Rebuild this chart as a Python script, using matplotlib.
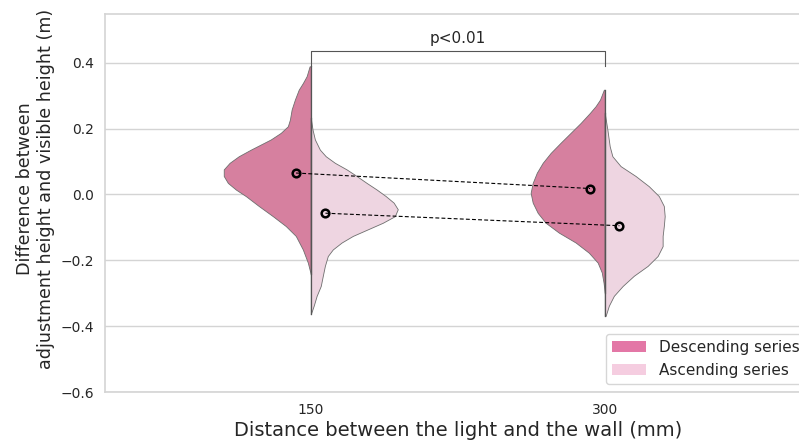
import numpy as np
import matplotlib
matplotlib.use("Agg")
import matplotlib.pyplot as plt
from matplotlib.patches import Patch

# categories and series
distances = ["150", "300"]
series = ["Descending series", "Ascending series"]

# violin outlines: y value and half width (category units)
desc_150_y = [0.389, 0.359, 0.338, 0.318, 0.288, 0.258, 0.227, 0.207, 0.187, 0.167, 0.136, 0.116,
              0.096, 0.076, 0.056, 0.035, 0.015, -0.005, -0.035, -0.066, -0.096, -0.126, -0.167,
              -0.207, -0.242]
desc_150_w = [0.004, 0.014, 0.027, 0.041, 0.054, 0.065, 0.071, 0.078, 0.102, 0.136, 0.204, 0.245,
              0.276, 0.296, 0.296, 0.282, 0.255, 0.221, 0.177, 0.129, 0.085, 0.051, 0.027,
              0.010, 0.0]
asc_150_y = [0.232, 0.197, 0.167, 0.136, 0.116, 0.096, 0.076, 0.056, 0.035, 0.015, -0.005, -0.025,
             -0.045, -0.066, -0.086, -0.106, -0.126, -0.146, -0.167, -0.187, -0.217, -0.247,
             -0.278, -0.308, -0.338, -0.364]
asc_150_w = [0.0, 0.006, 0.014, 0.031, 0.051, 0.082, 0.122, 0.156, 0.190, 0.224, 0.255, 0.282,
             0.296, 0.286, 0.245, 0.194, 0.143, 0.105, 0.075, 0.058, 0.048, 0.041,
             0.034, 0.020, 0.010, 0.0]
desc_300_y = [0.318, 0.288, 0.268, 0.247, 0.217, 0.187, 0.157, 0.126, 0.096, 0.066, 0.035, 0.005,
              -0.025, -0.056, -0.086, -0.116, -0.146, -0.177, -0.207, -0.237, -0.268, -0.298]
desc_300_w = [0.003, 0.016, 0.031, 0.051, 0.082, 0.116, 0.150, 0.184, 0.211, 0.231, 0.245, 0.252,
              0.245, 0.228, 0.201, 0.156, 0.099, 0.054, 0.024, 0.010, 0.004, 0.0]
asc_300_y = [0.247, 0.197, 0.146, 0.116, 0.086, 0.056, 0.025, -0.005, -0.035, -0.066, -0.096,
             -0.126, -0.157, -0.187, -0.217, -0.247, -0.278, -0.308, -0.338, -0.369]
asc_300_w = [0.0, 0.009, 0.017, 0.026, 0.054, 0.105, 0.150, 0.184, 0.201, 0.204, 0.201,
             0.197, 0.197, 0.180, 0.146, 0.099, 0.061, 0.031, 0.014, 0.003]

# means per series
desc_means = [0.065, 0.018]
asc_means = [-0.057, -0.095]

p_text = "p<0.01"

desc_fill = "#d6809f"
asc_fill = "#eed5e1"
desc_legend = "#e377a6"
asc_legend = "#f5cde0"
edge = "#6e6e6e"
grid_c = "#d4d4d4"
text_c = "#262626"

fig = plt.figure(figsize=(7.99, 4.44), dpi=100)
ax = fig.add_axes([0.1314, 0.1171, 0.883, 0.8514])

outlines = [
    (0, desc_150_y, desc_150_w, -1, desc_fill),
    (0, asc_150_y, asc_150_w, 1, asc_fill),
    (1, desc_300_y, desc_300_w, -1, desc_fill),
    (1, asc_300_y, asc_300_w, 1, asc_fill),
]
for pos, ys, ws, side, col in outlines:
    ys = np.array(ys)
    ws = np.array(ws)
    ax.fill_betweenx(ys, pos, pos + side * ws, facecolor=col, edgecolor=edge,
                     linewidth=0.6, zorder=2)
    ax.plot([pos, pos], [ys.min(), ys.max()], color="#555555", lw=0.9, zorder=3)

off = 0.05
xs = np.arange(len(distances))
for means, d in [(desc_means, -off), (asc_means, off)]:
    ax.plot(xs + d, means, ls=(0, (3.5, 2)), color="black", lw=0.8, zorder=4)
    ax.plot(xs + d, means, ls="none", marker="o", ms=5.5, mfc="none", mec="black",
            mew=1.8, zorder=5)

# significance bracket
ax.plot([0, 0, 1, 1], [0.389, 0.437, 0.437, 0.389], color="#555555", lw=0.8, zorder=4)
ax.text(0.5, 0.452, p_text, ha="center", va="bottom", fontsize=11, color=text_c)

ax.set_xlim(-0.7, 1.7)
ax.set_ylim(-0.6, 0.548)
ax.set_xticks(xs)
ax.set_xticklabels(distances)
ax.set_yticks([-0.6, -0.4, -0.2, 0.0, 0.2, 0.4])
ax.set_yticklabels(["\u22120.6", "\u22120.4", "\u22120.2", "0.0", "0.2", "0.4"])
ax.tick_params(length=0, labelsize=10, labelcolor=text_c, pad=8)
ax.yaxis.grid(True, color=grid_c, lw=1)
ax.set_axisbelow(True)
for s in ax.spines.values():
    s.set_color(grid_c)
    s.set_linewidth(1.2)

ax.set_xlabel("Distance between the light and the wall (mm)", fontsize=14, color=text_c, labelpad=3)
ax.set_ylabel("Difference between\nadjustment height and visible height (m)", fontsize=12.6,
              color=text_c, labelpad=4)
ax.yaxis.label.set_y(0.537)

handles = [Patch(facecolor=desc_legend, edgecolor="none"),
           Patch(facecolor=asc_legend, edgecolor="none")]
ax.legend(handles, series, loc="lower left", bbox_to_anchor=(0.71, 0.022), fontsize=11,
          frameon=True, edgecolor="#cccccc", fancybox=True, handlelength=2.2,
          handletextpad=0.85, borderaxespad=0, labelcolor=text_c)

fig.savefig("out.png", dpi=100)
